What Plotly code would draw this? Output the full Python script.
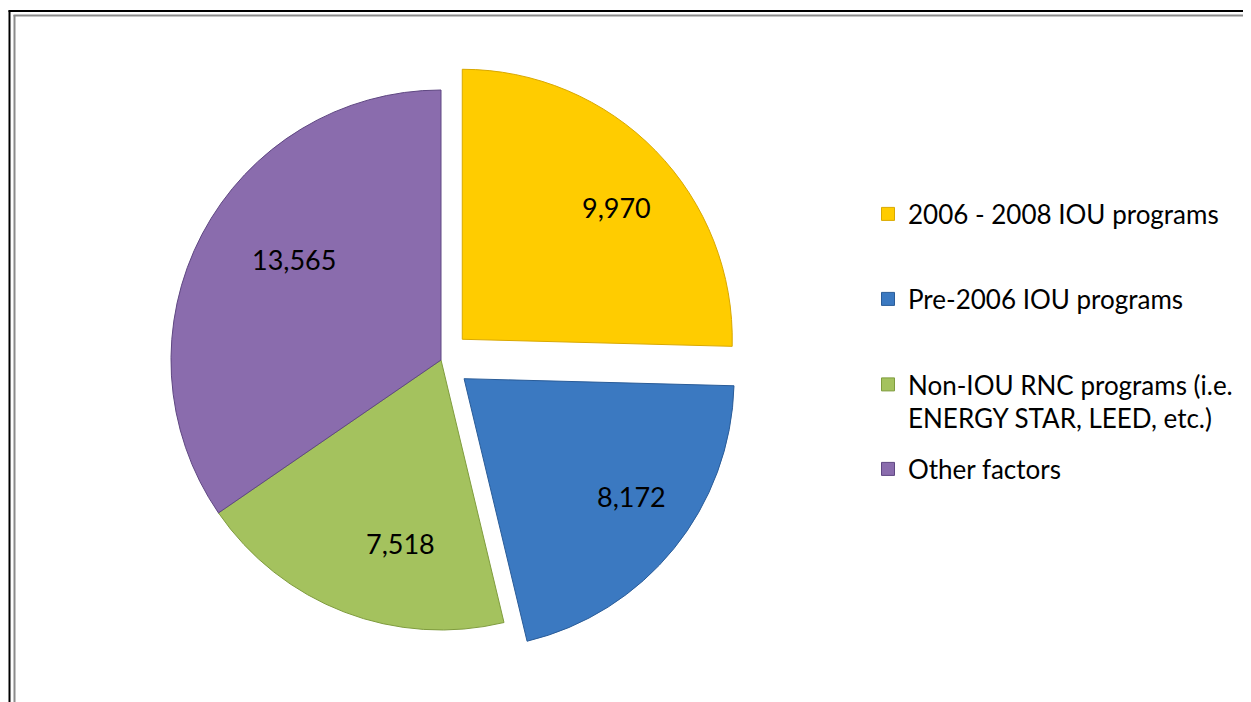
import math
import plotly.graph_objects as go

categories = ["2006 - 2008 IOU programs", "Pre-2006 IOU programs",
              "Non-IOU RNC programs (i.e.<br>ENERGY STAR, LEED, etc.)", "Other factors"]
values = [9970, 8172, 7518, 13565]
colors = ["#FFCC00", "#3B79C1", "#A4C25E", "#8A6CAD"]
edge_colors = ["#D9A800", "#2A5C98", "#7F9C3E", "#5F4782"]
pulls = [0.11, 0.11, 0, 0]

OFF = 8                      # default page body margin
W, H = 1251 - OFF, 702 - OFF  # figure reaches exactly to the window edge
FONT = "Lato, 'Open Sans', sans-serif"


def px(x):
    return (x - OFF) / W


def py(y):
    return 1 - (y - OFF) / H


# pie geometry (screen pixels)
CX, CY, R = 441, 360, 270
half_box = R * (1 + max(pulls))

fig = go.Figure()
fig.add_trace(go.Pie(
    labels=categories, values=values, sort=False, direction="clockwise", rotation=0,
    pull=pulls,
    marker=dict(colors=colors, line=dict(color=edge_colors, width=1)),
    textinfo="none",
    domain=dict(x=[px(CX - half_box), px(CX + half_box)],
                y=[py(CY + half_box), py(CY - half_box)]),
    showlegend=False, hoverinfo="label+value",
))

# value labels placed along each slice's bisector
total = sum(values)
start = 0.0
annotations = []
for v, p in zip(values, pulls):
    mid = (start + v / 2) / total * 2 * math.pi
    start += v
    dx, dy = math.sin(mid), -math.cos(mid)   # dy: screen-down component
    rr = R * (p + 0.8)
    annotations.append(dict(
        x=px(CX + rr * dx), y=py(CY + rr * dy), xref="paper", yref="paper",
        text=f"{v:,}", showarrow=False,
        font=dict(family=FONT, size=27, color="black"),
    ))

# legend entries (one legend per item so spacing matches the original)
legend_y_px = [214, 299, 401.5, 469]
for i, (cat, col, ec) in enumerate(zip(categories, colors, edge_colors)):
    lname = "legend" if i == 0 else f"legend{i+1}"
    fig.add_trace(go.Scatter(
        x=[None], y=[None], mode="markers", name=cat,
        marker=dict(symbol="square", size=13, color=col, line=dict(color=ec, width=1)),
        legend=lname, showlegend=True, hoverinfo="skip",
    ))
    fig.update_layout(**{lname: dict(
        x=px(868), xanchor="left", y=py(legend_y_px[i]), yanchor="middle",
        valign="top", bgcolor="rgba(0,0,0,0)",
        font=dict(family=FONT, size=26, color="black"),
    )})

fig.update_layout(
    width=W, height=H, margin=dict(l=0, r=0, t=0, b=0),
    paper_bgcolor="white", plot_bgcolor="white",
    xaxis=dict(visible=False), yaxis=dict(visible=False),
    annotations=annotations,
    shapes=[
        # outer black frame (top and left edges visible)
        dict(type="line", xref="paper", yref="paper",
             x0=px(9.5), x1=px(9.5), y0=0, y1=py(10.5),
             line=dict(color="black", width=2)),
        dict(type="line", xref="paper", yref="paper",
             x0=px(8.5), x1=1, y0=py(11), y1=py(11),
             line=dict(color="black", width=2)),
        # inner grey frame
        dict(type="line", xref="paper", yref="paper",
             x0=px(14.5), x1=px(14.5), y0=0, y1=py(15),
             line=dict(color="#8C8C8C", width=2)),
        dict(type="line", xref="paper", yref="paper",
             x0=px(13.5), x1=1, y0=py(15.5), y1=py(15.5),
             line=dict(color="#8C8C8C", width=2)),
    ],
)

fig.write_html("out.html")
